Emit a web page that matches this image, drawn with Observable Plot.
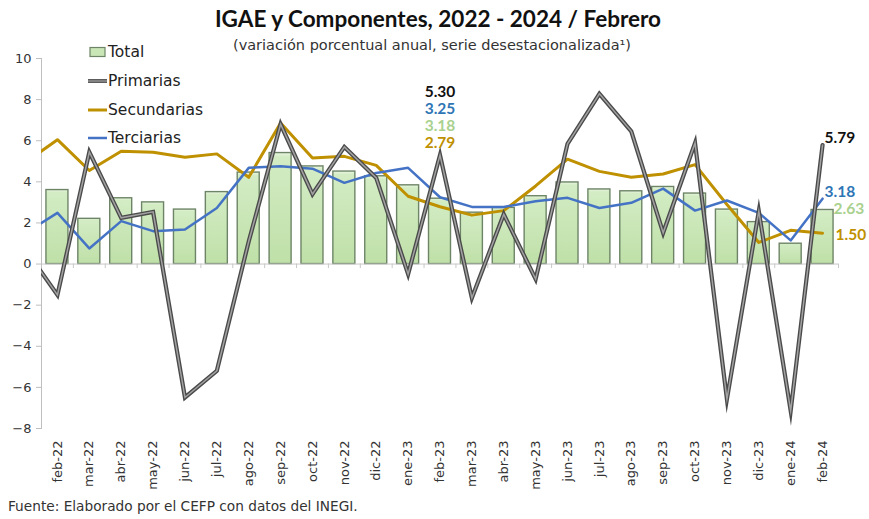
<!DOCTYPE html>
<html><head><meta charset="utf-8">
<script src="https://cdn.jsdelivr.net/npm/d3@7"></script>
<script src="https://cdn.jsdelivr.net/npm/@observablehq/plot@0.6"></script>
<style>
body{margin:0;background:#fff;}
#wrap{position:relative;width:869px;height:519px;overflow:hidden;background:#fff;}
#title{position:absolute;left:0;width:876px;top:5px;text-align:center;font:bold 22.5px Lato,sans-serif;color:#111;white-space:nowrap;}
#subtitle{position:absolute;left:0;width:864px;top:37px;text-align:center;font:14.5px "DejaVu Sans",sans-serif;color:#333;white-space:nowrap;}
#chart{position:absolute;left:0;top:40px;}
#legend{position:absolute;left:88px;top:38px;font:15.5px "DejaVu Sans",sans-serif;color:#222;}
#legend div{height:28.7px;display:flex;align-items:center;}
#legend svg{margin-right:1px;}
#caption{position:absolute;left:8px;top:498px;font:13.7px "DejaVu Sans",sans-serif;color:#333;white-space:nowrap;}
</style></head>
<body>
<div id="wrap">
  <div id="title">IGAE y Componentes, 2022 - 2024 / Febrero</div>
  <div id="subtitle">(variación porcentual anual, serie desestacionalizada¹)</div>
  <div id="chart"></div>
  <div id="legend"></div>
  <div id="caption">Fuente: Elaborado por el CEFP con datos del INEGI.</div>
</div>
<script>
const categories = ["ene-22","feb-22","mar-22","abr-22","may-22","jun-22","jul-22","ago-22","sep-22","oct-22","nov-22","dic-22",
  "ene-23","feb-23","mar-23","abr-23","may-23","jun-23","jul-23","ago-23","sep-23","oct-23","nov-23","dic-23","ene-24","feb-24"];
const total = [null, 3.6, 2.2, 3.2, 3.0, 2.65, 3.5, 4.45, 5.4, 4.75, 4.5, 4.27, 3.83, 3.18, 2.5, 2.73, 3.3, 3.97, 3.63, 3.54, 3.75, 3.43, 2.65, 2.04, 0.99, 2.63];
const primarias = [0.7, -1.5, 5.45, 2.25, 2.54, -6.49, -5.19, 1.1, 6.8, 3.4, 5.7, 4.19, -0.49, 5.30, -1.65, 2.42, -0.73, 5.85, 8.28, 6.46, 1.52, 5.89, -6.57, 2.57, -7.14, 5.79];
const secundarias = [4.95, 6.05, 4.55, 5.49, 5.44, 5.2, 5.36, 4.22, 6.86, 5.16, 5.24, 4.8, 3.3, 2.79, 2.38, 2.6, 3.8, 5.1, 4.51, 4.22, 4.38, 4.84, 2.9, 1.05, 1.64, 1.50];
const terciarias = [1.51, 2.49, 0.76, 2.09, 1.6, 1.68, 2.73, 4.68, 4.76, 4.64, 3.95, 4.43, 4.68, 3.25, 2.78, 2.78, 3.06, 3.22, 2.73, 2.98, 3.67, 2.6, 3.09, 2.49, 1.15, 3.18];
const yTicks = [-8, -6, -4, -2, 0, 2, 4, 6, 8, 10];

const colors = {Total: "#a9d18e", Primarias: "#111111", Secundarias: "#bf9000", Terciarias: "#4472c4"};
const labelColors = {Total: "#a9d18e", Primarias: "#111111", Secundarias: "#bf9000", Terciarias: "#2e75b6"};

const rows = categories.map((c, k) => ({k, c, total: total[k], primarias: primarias[k], secundarias: secundarias[k], terciarias: terciarias[k]}));
const barRows = rows.filter(d => d.total != null);
const febIdx = categories.indexOf("feb-23");
const lastIdx = categories.length - 1;
const stack = [
  {name: "Primarias", v: primarias[febIdx]},
  {name: "Terciarias", v: terciarias[febIdx]},
  {name: "Total", v: total[febIdx]},
  {name: "Secundarias", v: secundarias[febIdx]}
];
const endLabels = [
  {name: "Primarias", v: primarias[lastIdx], dx: 2, dy: -7},
  {name: "Terciarias", v: terciarias[lastIdx], dx: 2, dy: -7},
  {name: "Total", v: total[lastIdx], dx: 11, dy: -1},
  {name: "Secundarias", v: secundarias[lastIdx], dx: 13, dy: 2}
];
const bounds = d3.range(0, categories.length).map(k => k + 0.5);
const labelFont = {fontFamily: "Lato, sans-serif", fontWeight: "bold", fontSize: 15.5};

const chart = Plot.plot({
  width: 869, height: 460,
  marginLeft: 41, marginRight: 31, marginTop: 18, marginBottom: 72,
  x: {domain: [0.5, categories.length - 0.5], axis: null},
  y: {domain: [-8, 10], axis: null},
  style: {background: "transparent"},
  marks: [
    Plot.rectY(barRows, {x1: d => d.k - 0.345, x2: d => d.k + 0.345, y1: 0, y2: "total", fill: "url(#barGrad)", stroke: "#6d8566", strokeWidth: 1.4}),
    Plot.ruleY([0], {stroke: "#c8c8c8", strokeWidth: 1}),
    Plot.ruleX(bounds, {x: d => d, y1: 0, y2: -0.22, stroke: "#c8c8c8"}),
    Plot.frame({anchor: "left", stroke: "#bfbfbf"}),
    Plot.axisY({ticks: yTicks, tickSize: 5, tickPadding: 5, stroke: "#bfbfbf", fontSize: 13, fill: "#333", fontFamily: "DejaVu Sans, sans-serif", label: null}),
    Plot.axisX({ticks: d3.range(1, categories.length), tickFormat: k => categories[k], tickRotate: -90, tickSize: 0, tickPadding: 12, fontSize: 13, fill: "#333", fontFamily: "DejaVu Sans, sans-serif", label: null}),
    Plot.line(rows, {x: "k", y: "secundarias", stroke: colors.Secundarias, strokeWidth: 3, clip: true}),
    Plot.line(rows, {x: "k", y: "terciarias", stroke: colors.Terciarias, strokeWidth: 2.5, clip: true}),
    Plot.line(rows, {x: "k", y: "primarias", stroke: "#4a4a4a", strokeWidth: 4.2, strokeLinejoin: "miter", strokeMiterlimit: 10, clip: true}),
    Plot.line(rows, {x: "k", y: "primarias", stroke: "#a2a2a2", strokeWidth: 1.5, strokeLinejoin: "miter", strokeMiterlimit: 10, clip: true}),
    Plot.text(stack, {x: () => febIdx, frameAnchor: "top", text: d => d.v.toFixed(2), fill: d => labelColors[d.name], ...labelFont, lineAnchor: "middle", textAnchor: "middle"}),
    Plot.text(endLabels, {x: () => lastIdx, y: "v", text: d => d.v.toFixed(2), fill: d => labelColors[d.name], ...labelFont, lineAnchor: "middle", textAnchor: "start"})
  ]
});

// stacked labels: per-item offsets applied after render
const svg = d3.select(chart);
const texts = svg.selectAll("g[aria-label='text']");
texts.filter((d, i) => i === 0).selectAll("text").each(function(d, i) {
  const t = d3.select(this);
  t.attr("transform", (t.attr("transform") || "") + ` translate(0,${34 + i * 16.8})`);
});
texts.filter((d, i) => i === 1).selectAll("text").each(function(d, i) {
  const t = d3.select(this);
  const e = endLabels[i];
  t.attr("transform", (t.attr("transform") || "") + ` translate(${e.dx},${e.dy})`);
});

const defs = svg.insert("defs", ":first-child");
const g = defs.append("linearGradient").attr("id", "barGrad").attr("x1", 0).attr("y1", 0).attr("x2", 0).attr("y2", 1);
g.append("stop").attr("offset", "0%").attr("stop-color", "#eaf6e2");
g.append("stop").attr("offset", "4%").attr("stop-color", "#d3ecc4");
g.append("stop").attr("offset", "100%").attr("stop-color", "#bfe0a8");
document.getElementById("chart").appendChild(chart);

// legend
const legend = d3.select("#legend");
[["Total", "rect"], ["Primarias", "dbl"], ["Secundarias", "line"], ["Terciarias", "line"]].forEach(([name, kind]) => {
  const row = legend.append("div");
  const s = row.append("svg").attr("width", 19).attr("height", 14);
  if (kind === "rect") {
    s.append("rect").attr("x", 2).attr("y", 2.5).attr("width", 15).attr("height", 9).attr("fill", "#c9e6b6").attr("stroke", "#6d8566").attr("stroke-width", 1.2);
  } else if (kind === "dbl") {
    s.append("line").attr("x1", 0).attr("x2", 19).attr("y1", 7).attr("y2", 7).attr("stroke", "#4a4a4a").attr("stroke-width", 3.8);
    s.append("line").attr("x1", 0).attr("x2", 19).attr("y1", 7).attr("y2", 7).attr("stroke", "#a2a2a2").attr("stroke-width", 1.3);
  } else {
    s.append("line").attr("x1", 0).attr("x2", 19).attr("y1", 7).attr("y2", 7).attr("stroke", colors[name]).attr("stroke-width", name === "Secundarias" ? 3 : 2.5);
  }
  row.append("span").text(name);
});
</script>
</body></html>
